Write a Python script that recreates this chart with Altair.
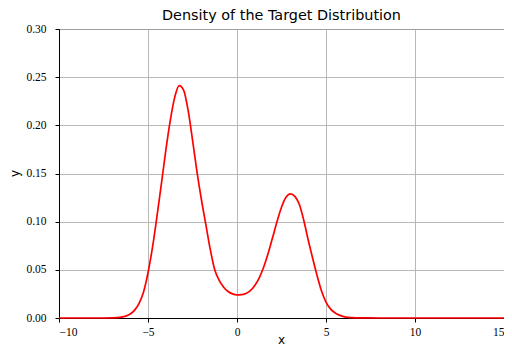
import altair as alt
import pandas as pd

# Density values
xs = [-10, -8, -7.0, -6.75, -6.5, -6.25, -6.0, -5.75, -5.5, -5.25, -5.0, -4.75, -4.5,
      -4.25, -4.0, -3.75, -3.5, -3.25, -3.0, -2.75, -2.5, -2.25, -2.0, -1.75, -1.5,
      -1.25, -1.0, -0.75, -0.5, -0.25, 0.0, 0.25, 0.5, 0.75, 1.0, 1.25, 1.5, 1.75,
      2.0, 2.25, 2.5, 2.75, 3.0, 3.25, 3.5, 3.75, 4.0, 4.25, 4.5, 4.75, 5.0, 5.25,
      5.5, 5.75, 6.0, 6.25, 6.5, 6.75, 7.0, 8, 10, 15]
ys = [0.0, 0.0, 0.0002, 0.0004, 0.0009, 0.002, 0.0041, 0.0082, 0.0153, 0.027, 0.047, 0.073, 0.105,
      0.139, 0.174, 0.205, 0.229, 0.2412, 0.2366, 0.216, 0.185, 0.152, 0.123, 0.097, 0.071,
      0.050, 0.039, 0.032, 0.0275, 0.025, 0.024, 0.0242, 0.0255, 0.0284, 0.0338, 0.0417, 0.0529, 0.0671,
      0.0835, 0.1002, 0.1150, 0.1253, 0.1289, 0.1262, 0.118, 0.1015, 0.081, 0.062, 0.044, 0.028, 0.0165, 0.0095,
      0.0055, 0.003, 0.0015, 0.0007, 0.0003, 0.0002, 0.0001, 0.0, 0.0, 0.0]

x_ticks = [-10, -5, 0, 5, 10, 15]
y_ticks = [0.0, 0.05, 0.10, 0.15, 0.20, 0.25, 0.30]

title_text = "Density of the Target Distribution"
x_title = "x"
y_title = "y"

df = pd.DataFrame({"x": xs, "y": ys})
one = pd.DataFrame({"k": [0]})

W, H = 445, 289

line = alt.Chart(df).mark_line(color="#ff0000", strokeWidth=1.7, interpolate="monotone").encode(
    x=alt.X("x:Q", title=None, scale=alt.Scale(domain=[-10, 15], nice=False, zero=False),
            axis=alt.Axis(values=x_ticks, format="d", labelPadding=4)),
    y=alt.Y("y:Q", title=None, scale=alt.Scale(domain=[0, 0.3], nice=False),
            axis=alt.Axis(values=y_ticks, format=".2f", labelPadding=9)),
)

title = alt.Chart(one).mark_text(font="DejaVu Sans", fontSize=14.4, color="black",
                                 align="center", baseline="alphabetic").encode(
    x=alt.value(W / 2), y=alt.value(-9), text=alt.value(title_text))

xlab = alt.Chart(one).mark_text(font="DejaVu Sans", fontSize=12, color="black",
                                align="center", baseline="alphabetic").encode(
    x=alt.value(W / 2), y=alt.value(315), text=alt.value(x_title))

ylab = alt.Chart(one).mark_text(font="DejaVu Sans", fontSize=12, color="black",
                                align="center", baseline="middle", angle=270).encode(
    x=alt.value(-44), y=alt.value(H / 2), text=alt.value(y_title))

chart = alt.layer(line, title, xlab, ylab).properties(
    width=W, height=H,
    autosize=alt.AutoSizeParams(type="none"),
    padding={"left": 51, "top": 21, "right": 0, "bottom": 30},
).configure_view(
    stroke="black", strokeWidth=1
).configure_axis(
    domainColor="black", domainWidth=1,
    tickColor="black", tickSize=4, tickWidth=1,
    gridColor="#b0b0b0", gridWidth=0.9,
    labelFont="Liberation Serif", labelFontSize=11.5, labelColor="black",
)

chart.save("out.html", embed_options={"renderer": "svg", "actions": False})
